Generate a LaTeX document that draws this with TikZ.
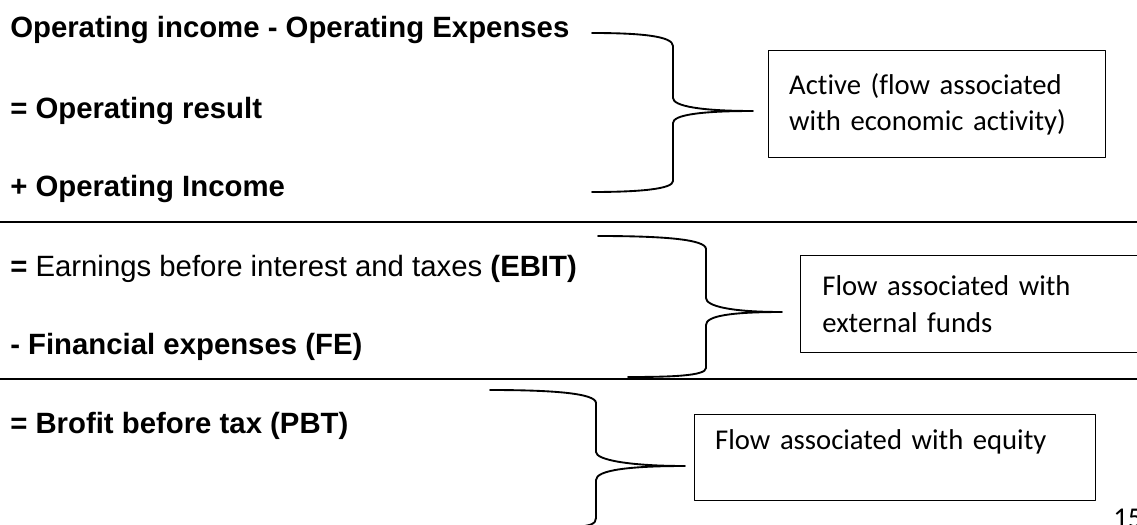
\documentclass[tikz,border=0pt]{standalone}
\usepackage{fontspec}
\setmainfont{Liberation Sans}
\newfontfamily\boxfont{Carlito}[Ligatures=NoCommon]
\usepackage{tikz}

\begin{document}
\begin{tikzpicture}[
	x=0.75pt,
	y=-0.75pt,
	line cap=round,
	line join=round,
	itemtext/.style={
		anchor=base west,
		inner sep=0pt,
		font=\fontsize{22}{26}\selectfont
	},
	flowbox/.style={
		draw,
		line width=1.1pt,
		anchor=north west,
		align=left,
		inner xsep=15pt,
		inner ysep=2pt,
		font=\boxfont\fontsize{21.5}{27.5}\selectfont
	},
	bracket/.style={line width=1.4pt},
	sepline/.style={line width=1.6pt}
	]
	
	% page frame
	\path[use as bounding box, clip] (0,0) rectangle (1137,524);
	
	% left column
	\node[itemtext] (opdiff) at (10,38) {\bfseries Operating income - Operating Expenses};
	\node[itemtext] (opres) at (10,118) {\bfseries = Operating result};
	\node[itemtext] (opinc) at (10,196) {\bfseries + Operating Income};
	\node[itemtext] (ebit) at (10,276) {\bfseries =\mdseries{} Earnings before interest and taxes \bfseries(EBIT)};
	\node[itemtext] (finexp) at (10,354) {\bfseries - Financial expenses (FE)};
	\node[itemtext] (pbt) at (10,433) {\bfseries = Brofit before tax (PBT)};
	
	% separators
	\draw[sepline] (0,222) -- (1137,222);
	\draw[sepline] (0,379) -- (1137,379);
	
	% boxes
	\node[flowbox, minimum width=252.75pt, minimum height=80.25pt, text width=222pt]
		(active) at (768,50) {Active (flow associated\\with economic activity)};
	\node[flowbox, minimum width=262.5pt, minimum height=72.75pt, text width=230pt]
		(extern) at (800,255) {Flow associated with\\external funds};
	\node[flowbox, minimum width=300.75pt, minimum height=64.5pt, text width=270pt]
		(equity) at (694,414) {Flow associated with equity\\\mbox{}};
	
	% braces
	\draw[bracket] (592,33) .. controls (640,33) and (673,36) .. (673,46) -- (673,98)
		.. controls (673,106) and (700,111) .. (753,111)
		.. controls (700,111) and (673,115) .. (673,123) -- (673,181)
		.. controls (673,189) and (640,192) .. (592,192);
	
	\draw[bracket] (598,236) .. controls (660,236) and (706,239) .. (706,249) -- (706,298)
		.. controls (706,306) and (730,312) .. (782,312)
		.. controls (730,312) and (706,316) .. (706,325) -- (706,368)
		.. controls (706,376) and (670,377) .. (628,377);
	
	\draw[bracket] (490,390) .. controls (550,390) and (596,393) .. (596,403) -- (596,452)
		.. controls (596,460) and (630,466) .. (685,466)
		.. controls (630,466) and (596,470) .. (596,480) -- (596,518)
		.. controls (596,524) and (590,526) .. (575,527);
	
	% page number
	\node[anchor=base west, inner sep=0pt, font=\boxfont\fontsize{21.5}{25}\selectfont] (pgnum) at (1113,527) {15};
	
\end{tikzpicture}
\end{document}
